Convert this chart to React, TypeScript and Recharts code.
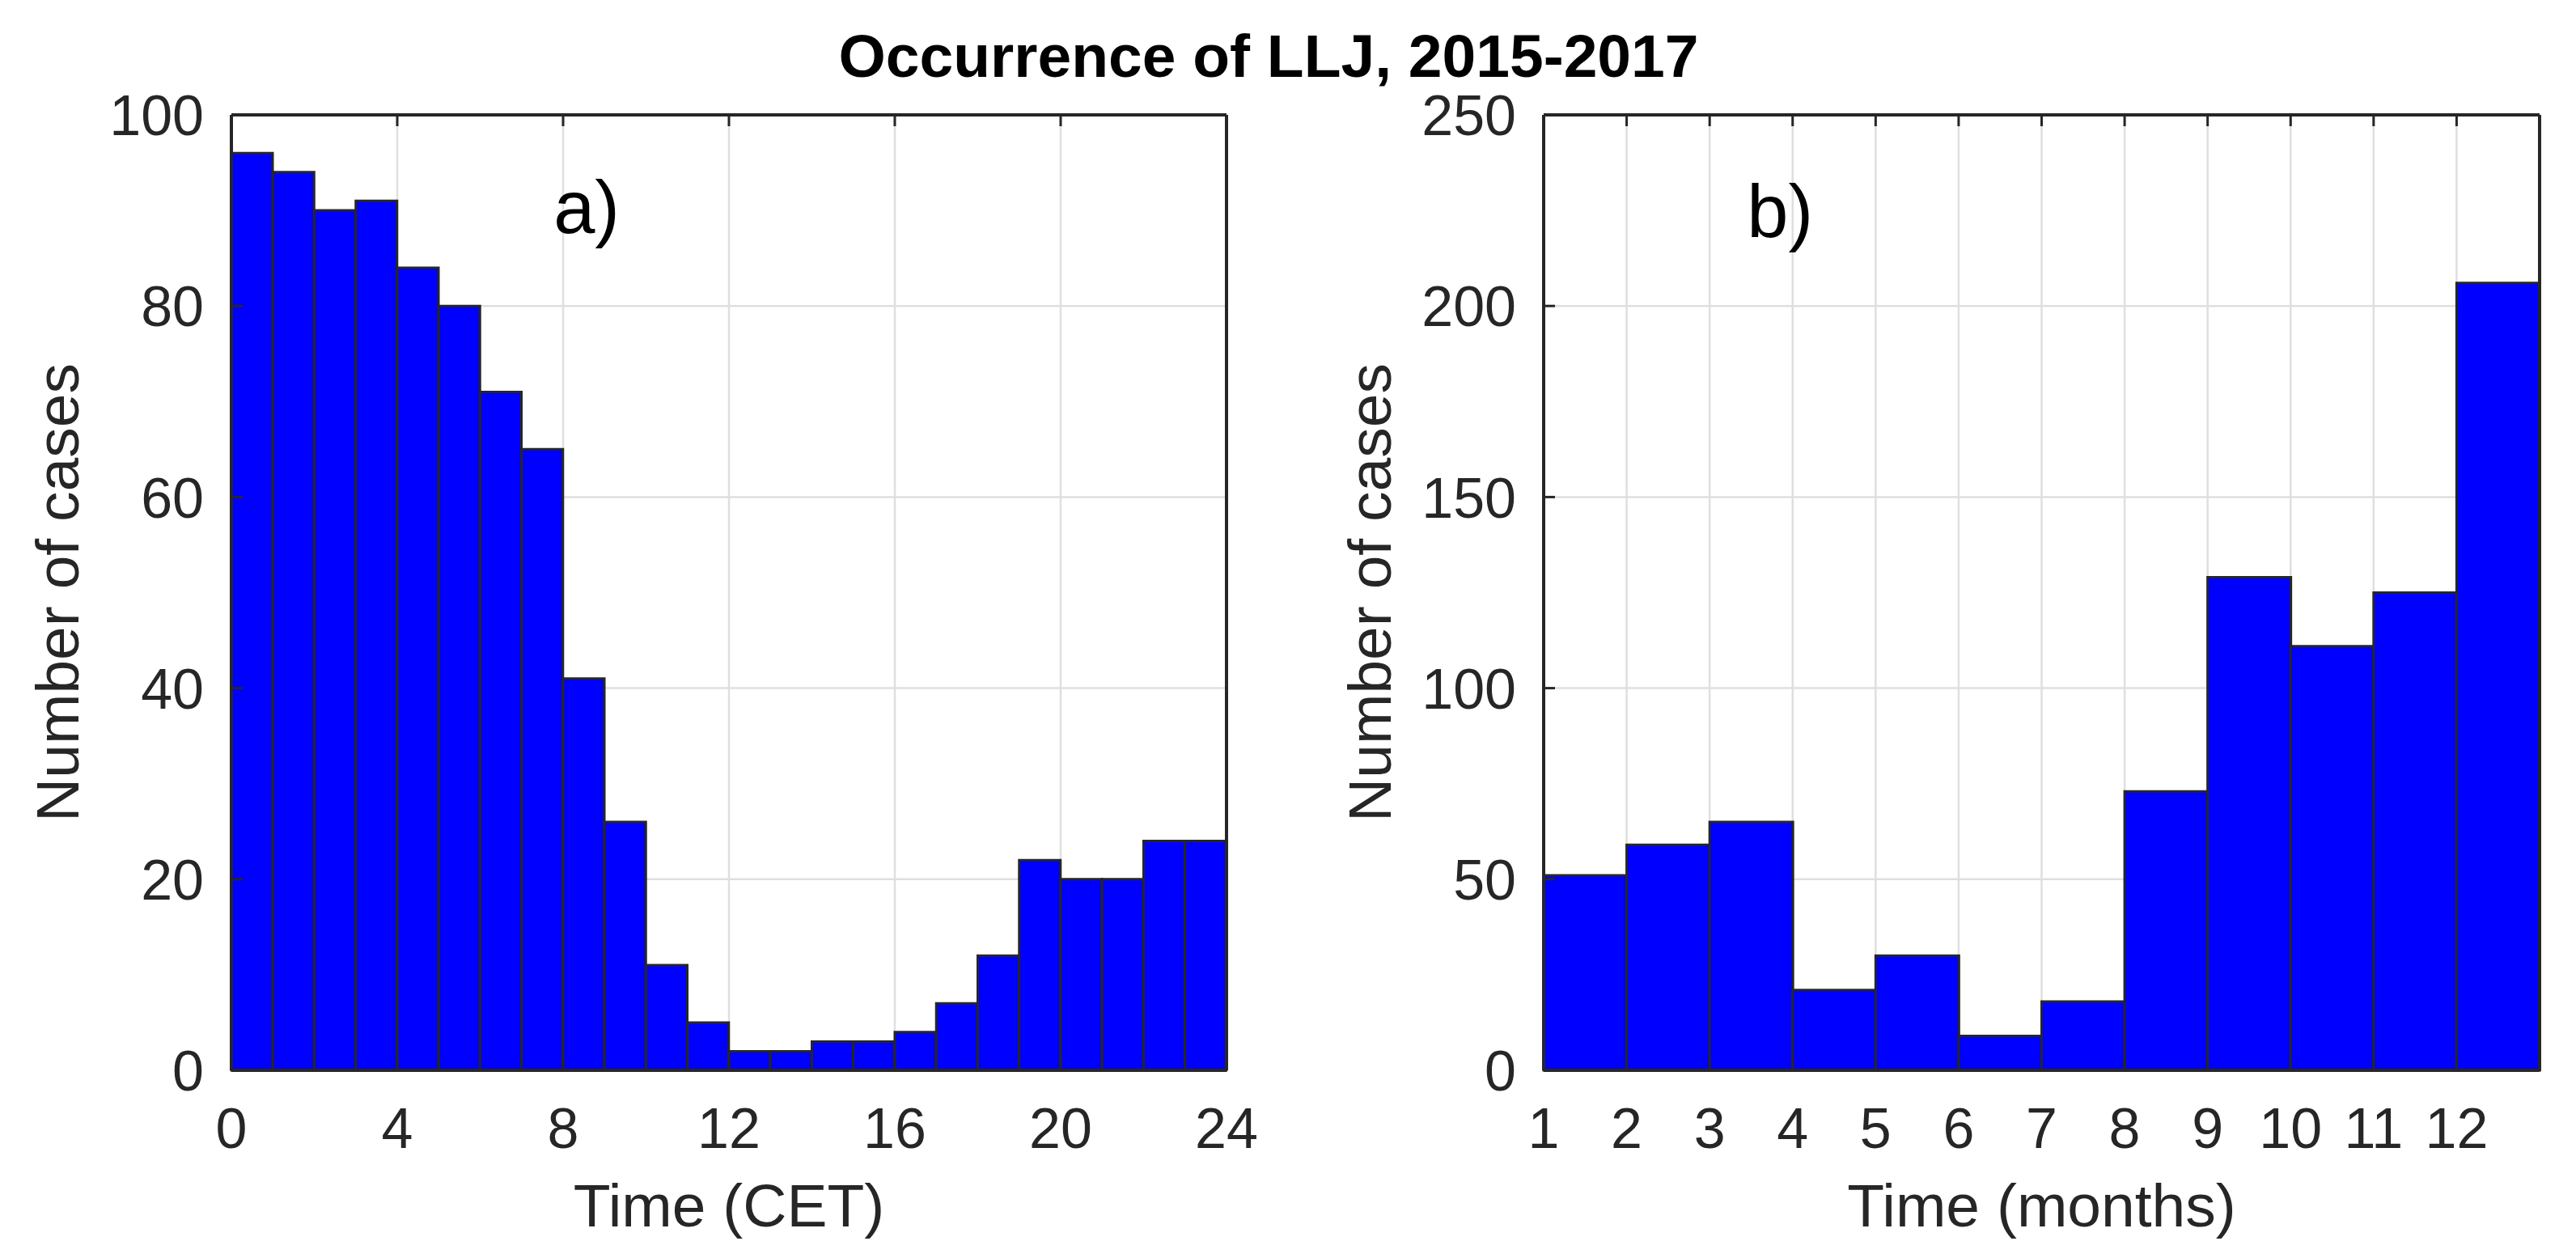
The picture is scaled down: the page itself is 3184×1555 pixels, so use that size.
import React from "react";
import { BarChart, Bar, XAxis, YAxis, CartesianGrid, Label, ReferenceDot } from "recharts";

// panel a: hourly occurrence (bin start hour, count)
const hours = [0, 1, 2, 3, 4, 5, 6, 7, 8, 9, 10, 11, 12, 13, 14, 15, 16, 17, 18, 19, 20, 21, 22, 23];
const hourCounts = [96, 94, 90, 91, 84, 80, 71, 65, 41, 26, 11, 5, 2, 2, 3, 3, 4, 7, 12, 22, 20, 20, 24, 24];
const hourTicks = [0, 4, 8, 12, 16, 20, 24];
const hourCountTicks = [0, 20, 40, 60, 80, 100];

// panel b: monthly occurrence
const months = [1, 2, 3, 4, 5, 6, 7, 8, 9, 10, 11, 12];
const monthCounts = [51, 59, 65, 21, 30, 9, 18, 73, 129, 111, 125, 206];
const monthTicks = [1, 2, 3, 4, 5, 6, 7, 8, 9, 10, 11, 12];
const monthCountTicks = [0, 50, 100, 150, 200, 250];

const hourData = hours.map((h, i) => ({ x: h + 0.5, count: hourCounts[i] }));
const monthData = months.map((m, i) => ({ x: m + 0.5, count: monthCounts[i] }));

const INK = "#262626";
const FONT = "'Liberation Sans', Arial, Helvetica, sans-serif";
const TICK = 14;
const FRAME = 4;

type Side = "bottom" | "left" | "top" | "right";

function makeTick(side: Side) {
  return (props: any) => {
    const { x, y, payload } = props;
    const v = payload ? payload.value : "";
    let l = { x1: x, x2: x, y1: y, y2: y - TICK };
    if (side === "top") l = { x1: x, x2: x, y1: y, y2: y + TICK };
    if (side === "left") l = { x1: x, x2: x + TICK, y1: y, y2: y };
    if (side === "right") l = { x1: x, x2: x - TICK, y1: y, y2: y };
    return (
      <g>
        <line {...l} stroke={INK} strokeWidth={3} />
        {side === "bottom" && (
          <text x={x} y={y + 96} textAnchor="middle" fontSize={70} fill={INK} fontFamily={FONT}>
            {v}
          </text>
        )}
        {side === "left" && (
          <text x={x - 34} y={y} dy="0.36em" textAnchor="end" fontSize={70} fill={INK} fontFamily={FONT}>
            {v}
          </text>
        )}
      </g>
    );
  };
}

const xLabel = (text: string) => (props: any) => {
  const vb = props.viewBox;
  return (
    <text x={vb.x + vb.width / 2} y={vb.y + 193} textAnchor="middle" fontSize={75} fill={INK} fontFamily={FONT}>
      {text}
    </text>
  );
};

const yLabel = (text: string) => (props: any) => {
  const vb = props.viewBox;
  const bx = vb.x + vb.width - 189;
  const cy = vb.y + vb.height / 2;
  return (
    <text
      x={bx}
      y={cy}
      transform={`rotate(-90, ${bx}, ${cy})`}
      textAnchor="middle"
      fontSize={75}
      fill={INK}
      fontFamily={FONT}
    >
      {text}
    </text>
  );
};

const panelTag = (text: string) => (props: any) => {
  const vb = props.viewBox;
  return (
    <text x={vb.x} y={vb.y} fontSize={92} fill="#000" fontFamily={FONT}>
      {text}
    </text>
  );
};

function Panel({
  data,
  xDomain,
  xTicks,
  yDomain,
  yTicks,
  xTitle,
  tag,
  tagX,
  tagY,
  width,
  right,
}: {
  data: { x: number; count: number }[];
  xDomain: [number, number];
  xTicks: number[];
  yDomain: [number, number];
  yTicks: number[];
  xTitle: string;
  tag: string;
  tagX: number;
  tagY: number;
  width: number;
  right: number;
}) {
  return (
    <BarChart
      width={width}
      height={1555}
      data={data}
      margin={{ top: 141, right, bottom: 0, left: 0 }}
      barCategoryGap={0}
      barGap={0}
    >
      <CartesianGrid stroke="#dfdfdf" strokeWidth={2.5} />
      <XAxis
        dataKey="x"
        type="number"
        domain={xDomain}
        ticks={xTicks}
        interval={0}
        height={232}
        tickSize={0}
        tickMargin={0}
        tickLine={false}
        axisLine={{ stroke: INK, strokeWidth: FRAME }}
        tick={makeTick("bottom")}
      >
        <Label content={xLabel(xTitle)} />
      </XAxis>
      <XAxis
        xAxisId="top"
        dataKey="x"
        type="number"
        orientation="top"
        domain={xDomain}
        ticks={xTicks}
        interval={0}
        height={1}
        tickSize={0}
        tickMargin={0}
        tickLine={false}
        axisLine={{ stroke: INK, strokeWidth: FRAME }}
        tick={makeTick("top")}
      />
      <YAxis
        type="number"
        domain={yDomain}
        ticks={yTicks}
        interval={0}
        width={286}
        tickSize={0}
        tickMargin={0}
        tickLine={false}
        axisLine={{ stroke: INK, strokeWidth: FRAME }}
        tick={makeTick("left")}
      >
        <Label content={yLabel("Number of cases")} />
      </YAxis>
      <YAxis
        yAxisId="right"
        type="number"
        orientation="right"
        domain={yDomain}
        ticks={yTicks}
        interval={0}
        width={1}
        tickSize={0}
        tickMargin={0}
        tickLine={false}
        axisLine={{ stroke: INK, strokeWidth: FRAME }}
        tick={makeTick("right")}
      />
      <Bar dataKey="count" fill="#0000ff" stroke={INK} strokeWidth={3} isAnimationActive={false} />
      <ReferenceDot x={tagX} y={tagY} r={0} fill="none" stroke="none" label={{ content: panelTag(tag) }} />
    </BarChart>
  );
}

export default function App() {
  return (
    <div
      style={{
        position: "absolute",
        left: 0,
        top: 0,
        width: 3184,
        height: 1555,
        background: "#fff",
        overflow: "hidden",
      }}
    >
      <div style={{ position: "absolute", left: 0, top: 0 }}>
        <Panel
          data={hourData}
          xDomain={[0, 24]}
          xTicks={hourTicks}
          yDomain={[0, 100]}
          yTicks={hourCountTicks}
          xTitle="Time (CET)"
          tag="a)"
          tagX={7.77}
          tagY={87.6}
          width={1560}
          right={43}
        />
      </div>
      <div style={{ position: "absolute", left: 1622, top: 0 }}>
        <Panel
          data={monthData}
          xDomain={[1, 13]}
          xTicks={monthTicks}
          yDomain={[0, 250]}
          yTicks={monthCountTicks}
          xTitle="Time (months)"
          tag="b)"
          tagX={3.45}
          tagY={218}
          width={1562}
          right={44}
        />
      </div>
      <svg width={3184} height={140} style={{ position: "absolute", left: 0, top: 0, pointerEvents: "none" }}>
        <text x={1568} y={95} textAnchor="middle" fontSize={75} fontWeight="bold" fill="#000" fontFamily={FONT}>
          Occurrence of LLJ, 2015-2017
        </text>
      </svg>
    </div>
  );
}
